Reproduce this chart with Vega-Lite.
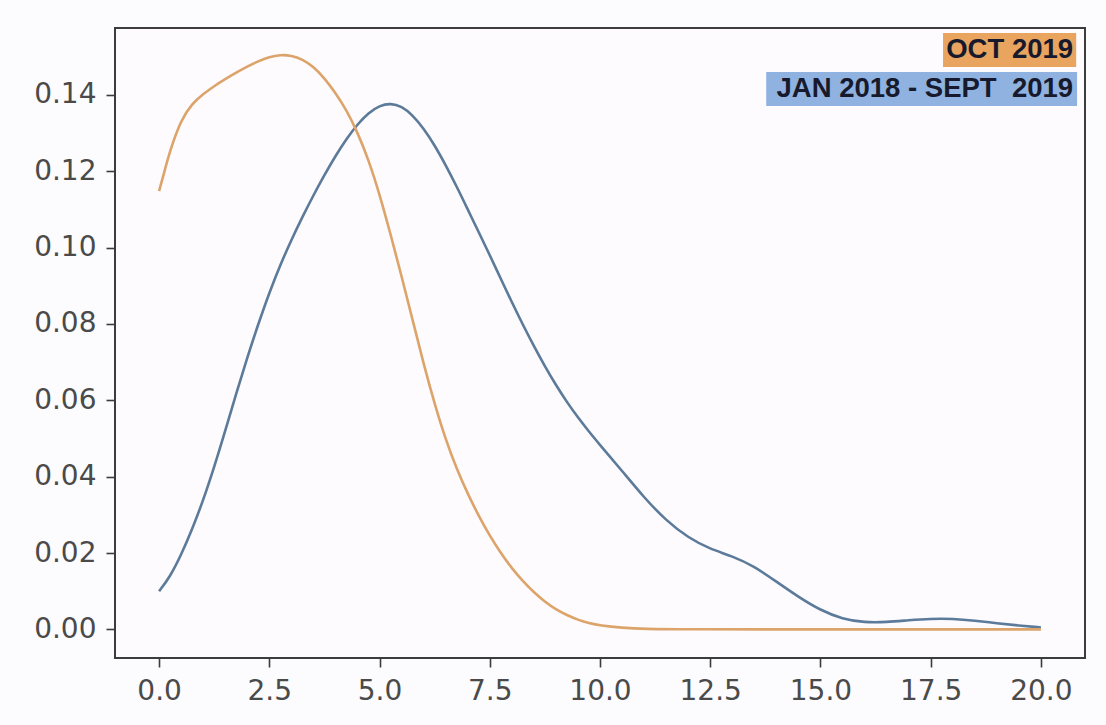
{
  "$schema": "https://vega.github.io/schema/vega-lite/v6.json",
  "width": 970,
  "height": 630,
  "autosize": {"type": "none"},
  "padding": {"left": 115, "top": 28, "right": 21, "bottom": 67},
  "background": "#fcfbfd",
  "config": {
    "view": {"stroke": "#3c3c3c", "strokeWidth": 2, "fill": "#fdfbfe"},
    "axis": {
      "grid": false,
      "domain": false,
      "labelFont": "DejaVu Sans",
      "labelFontSize": 28,
      "labelColor": "#4a4a4a",
      "tickColor": "#3c3c3c",
      "tickWidth": 1.6,
      "tickSize": 9,
      "title": null,
      "labelOverlap": false,
      "labelFlush": false
    }
  },
  "datasets": {
    "kde": [
      {"series": "JAN 2018 - SEPT  2019", "x": 0, "density": 0.0100},
      {"series": "JAN 2018 - SEPT  2019", "x": 0.25, "density": 0.0138},
      {"series": "JAN 2018 - SEPT  2019", "x": 0.5, "density": 0.0195},
      {"series": "JAN 2018 - SEPT  2019", "x": 0.75, "density": 0.0262},
      {"series": "JAN 2018 - SEPT  2019", "x": 1.0, "density": 0.0338},
      {"series": "JAN 2018 - SEPT  2019", "x": 1.25, "density": 0.0425},
      {"series": "JAN 2018 - SEPT  2019", "x": 1.5, "density": 0.0520},
      {"series": "JAN 2018 - SEPT  2019", "x": 1.75, "density": 0.0618},
      {"series": "JAN 2018 - SEPT  2019", "x": 2.0, "density": 0.0712},
      {"series": "JAN 2018 - SEPT  2019", "x": 2.25, "density": 0.0800},
      {"series": "JAN 2018 - SEPT  2019", "x": 2.5, "density": 0.0882},
      {"series": "JAN 2018 - SEPT  2019", "x": 2.75, "density": 0.0955},
      {"series": "JAN 2018 - SEPT  2019", "x": 3.0, "density": 0.1020},
      {"series": "JAN 2018 - SEPT  2019", "x": 3.25, "density": 0.1080},
      {"series": "JAN 2018 - SEPT  2019", "x": 3.5, "density": 0.1137},
      {"series": "JAN 2018 - SEPT  2019", "x": 3.75, "density": 0.1190},
      {"series": "JAN 2018 - SEPT  2019", "x": 4.0, "density": 0.1240},
      {"series": "JAN 2018 - SEPT  2019", "x": 4.25, "density": 0.1285},
      {"series": "JAN 2018 - SEPT  2019", "x": 4.5, "density": 0.1323},
      {"series": "JAN 2018 - SEPT  2019", "x": 4.75, "density": 0.1353},
      {"series": "JAN 2018 - SEPT  2019", "x": 5.0, "density": 0.1372},
      {"series": "JAN 2018 - SEPT  2019", "x": 5.25, "density": 0.1378},
      {"series": "JAN 2018 - SEPT  2019", "x": 5.5, "density": 0.1370},
      {"series": "JAN 2018 - SEPT  2019", "x": 5.75, "density": 0.1347},
      {"series": "JAN 2018 - SEPT  2019", "x": 6.0, "density": 0.1312},
      {"series": "JAN 2018 - SEPT  2019", "x": 6.25, "density": 0.1268},
      {"series": "JAN 2018 - SEPT  2019", "x": 6.5, "density": 0.1216},
      {"series": "JAN 2018 - SEPT  2019", "x": 6.75, "density": 0.1160},
      {"series": "JAN 2018 - SEPT  2019", "x": 7.0, "density": 0.1100},
      {"series": "JAN 2018 - SEPT  2019", "x": 7.25, "density": 0.1040},
      {"series": "JAN 2018 - SEPT  2019", "x": 7.5, "density": 0.0980},
      {"series": "JAN 2018 - SEPT  2019", "x": 7.75, "density": 0.0918},
      {"series": "JAN 2018 - SEPT  2019", "x": 8.0, "density": 0.0857},
      {"series": "JAN 2018 - SEPT  2019", "x": 8.25, "density": 0.0798},
      {"series": "JAN 2018 - SEPT  2019", "x": 8.5, "density": 0.0742},
      {"series": "JAN 2018 - SEPT  2019", "x": 8.75, "density": 0.0689},
      {"series": "JAN 2018 - SEPT  2019", "x": 9.0, "density": 0.0640},
      {"series": "JAN 2018 - SEPT  2019", "x": 9.25, "density": 0.0595},
      {"series": "JAN 2018 - SEPT  2019", "x": 9.5, "density": 0.0555},
      {"series": "JAN 2018 - SEPT  2019", "x": 9.75, "density": 0.0518},
      {"series": "JAN 2018 - SEPT  2019", "x": 10.0, "density": 0.0483},
      {"series": "JAN 2018 - SEPT  2019", "x": 10.5, "density": 0.0415},
      {"series": "JAN 2018 - SEPT  2019", "x": 11.0, "density": 0.0345},
      {"series": "JAN 2018 - SEPT  2019", "x": 11.5, "density": 0.0285},
      {"series": "JAN 2018 - SEPT  2019", "x": 12.0, "density": 0.0240},
      {"series": "JAN 2018 - SEPT  2019", "x": 12.5, "density": 0.0210},
      {"series": "JAN 2018 - SEPT  2019", "x": 13.0, "density": 0.0192},
      {"series": "JAN 2018 - SEPT  2019", "x": 13.5, "density": 0.0165},
      {"series": "JAN 2018 - SEPT  2019", "x": 14.0, "density": 0.0125},
      {"series": "JAN 2018 - SEPT  2019", "x": 14.5, "density": 0.0085},
      {"series": "JAN 2018 - SEPT  2019", "x": 15.0, "density": 0.0050},
      {"series": "JAN 2018 - SEPT  2019", "x": 15.5, "density": 0.0027},
      {"series": "JAN 2018 - SEPT  2019", "x": 16.0, "density": 0.0018},
      {"series": "JAN 2018 - SEPT  2019", "x": 16.5, "density": 0.0019},
      {"series": "JAN 2018 - SEPT  2019", "x": 17.0, "density": 0.0024},
      {"series": "JAN 2018 - SEPT  2019", "x": 17.5, "density": 0.0028},
      {"series": "JAN 2018 - SEPT  2019", "x": 18.0, "density": 0.0028},
      {"series": "JAN 2018 - SEPT  2019", "x": 18.5, "density": 0.0023},
      {"series": "JAN 2018 - SEPT  2019", "x": 19.0, "density": 0.0016},
      {"series": "JAN 2018 - SEPT  2019", "x": 19.5, "density": 0.0010},
      {"series": "JAN 2018 - SEPT  2019", "x": 20.0, "density": 0.0005},
      {"series": "OCT 2019", "x": 0, "density": 0.1148},
      {"series": "OCT 2019", "x": 0.1, "density": 0.1190},
      {"series": "OCT 2019", "x": 0.25, "density": 0.1255},
      {"series": "OCT 2019", "x": 0.5, "density": 0.1335},
      {"series": "OCT 2019", "x": 0.75, "density": 0.1377},
      {"series": "OCT 2019", "x": 1.0, "density": 0.1402},
      {"series": "OCT 2019", "x": 1.25, "density": 0.1423},
      {"series": "OCT 2019", "x": 1.5, "density": 0.1441},
      {"series": "OCT 2019", "x": 1.75, "density": 0.1458},
      {"series": "OCT 2019", "x": 2.0, "density": 0.1474},
      {"series": "OCT 2019", "x": 2.25, "density": 0.1488},
      {"series": "OCT 2019", "x": 2.5, "density": 0.1499},
      {"series": "OCT 2019", "x": 2.75, "density": 0.1505},
      {"series": "OCT 2019", "x": 3.0, "density": 0.1503},
      {"series": "OCT 2019", "x": 3.25, "density": 0.1493},
      {"series": "OCT 2019", "x": 3.5, "density": 0.1474},
      {"series": "OCT 2019", "x": 3.75, "density": 0.1444},
      {"series": "OCT 2019", "x": 4.0, "density": 0.1405},
      {"series": "OCT 2019", "x": 4.25, "density": 0.1360},
      {"series": "OCT 2019", "x": 4.5, "density": 0.1302},
      {"series": "OCT 2019", "x": 4.75, "density": 0.1230},
      {"series": "OCT 2019", "x": 5.0, "density": 0.1140},
      {"series": "OCT 2019", "x": 5.25, "density": 0.1035},
      {"series": "OCT 2019", "x": 5.5, "density": 0.0925},
      {"series": "OCT 2019", "x": 5.75, "density": 0.0810},
      {"series": "OCT 2019", "x": 6.0, "density": 0.0695},
      {"series": "OCT 2019", "x": 6.25, "density": 0.0590},
      {"series": "OCT 2019", "x": 6.5, "density": 0.0497},
      {"series": "OCT 2019", "x": 6.75, "density": 0.0420},
      {"series": "OCT 2019", "x": 7.0, "density": 0.0355},
      {"series": "OCT 2019", "x": 7.25, "density": 0.0297},
      {"series": "OCT 2019", "x": 7.5, "density": 0.0245},
      {"series": "OCT 2019", "x": 7.75, "density": 0.0200},
      {"series": "OCT 2019", "x": 8.0, "density": 0.0160},
      {"series": "OCT 2019", "x": 8.25, "density": 0.0126},
      {"series": "OCT 2019", "x": 8.5, "density": 0.0097},
      {"series": "OCT 2019", "x": 8.75, "density": 0.0072},
      {"series": "OCT 2019", "x": 9.0, "density": 0.0052},
      {"series": "OCT 2019", "x": 9.25, "density": 0.0037},
      {"series": "OCT 2019", "x": 9.5, "density": 0.0025},
      {"series": "OCT 2019", "x": 9.75, "density": 0.0016},
      {"series": "OCT 2019", "x": 10.0, "density": 0.0010},
      {"series": "OCT 2019", "x": 10.5, "density": 0.0004},
      {"series": "OCT 2019", "x": 11.0, "density": 0.0001},
      {"series": "OCT 2019", "x": 12.0, "density": 0.0},
      {"series": "OCT 2019", "x": 14.0, "density": 0.0},
      {"series": "OCT 2019", "x": 16.0, "density": 0.0},
      {"series": "OCT 2019", "x": 18.0, "density": 0.0},
      {"series": "OCT 2019", "x": 20.0, "density": 0.0}
    ]
  },
  "layer": [
    {
      "data": {"name": "kde"},
      "transform": [{"filter": "datum.series === 'JAN 2018 - SEPT  2019'"}],
      "mark": {"type": "line", "color": "#5c7a99", "strokeWidth": 2.6, "interpolate": "basis"},
      "encoding": {
        "x": {"field": "x", "type": "quantitative",
              "scale": {"domain": [-1, 21], "nice": false, "zero": false},
              "axis": {"values": [0, 2.5, 5, 7.5, 10, 12.5, 15, 17.5, 20], "format": ".1f", "labelPadding": 10}},
        "y": {"field": "density", "type": "quantitative",
              "scale": {"domain": [-0.0075, 0.1575], "nice": false, "zero": false},
              "axis": {"values": [0, 0.02, 0.04, 0.06, 0.08, 0.1, 0.12, 0.14], "format": ".2f", "labelPadding": 10}}
      }
    },
    {
      "data": {"name": "kde"},
      "transform": [{"filter": "datum.series === 'OCT 2019'"}],
      "mark": {"type": "line", "color": "#dca46a", "strokeWidth": 2.6, "interpolate": "basis"},
      "encoding": {
        "x": {"field": "x", "type": "quantitative"},
        "y": {"field": "density", "type": "quantitative"}
      }
    },
    {
      "data": {"values": [{"label": "OCT 2019"}]},
      "mark": {"type": "rect", "color": "#e9a460", "opacity": 1},
      "encoding": {
        "x": {"datum": 17.78, "type": "quantitative"},
        "x2": {"datum": 20.8},
        "y": {"datum": 0.1562, "type": "quantitative"},
        "y2": {"datum": 0.1473}
      }
    },
    {
      "data": {"values": [{"label": "JAN 2018 - SEPT\u00a0 2019"}]},
      "mark": {"type": "rect", "color": "#8fb2e0", "opacity": 1},
      "encoding": {
        "x": {"datum": 13.77, "type": "quantitative"},
        "x2": {"datum": 20.82},
        "y": {"datum": 0.1460, "type": "quantitative"},
        "y2": {"datum": 0.1371}
      }
    },
    {
      "data": {"values": [{"label": "OCT 2019"}]},
      "mark": {"type": "text", "align": "right", "baseline": "middle", "font": "Liberation Sans", "fontWeight": "bold", "fontSize": 27.5, "color": "#171a2c"},
      "encoding": {
        "x": {"datum": 20.73, "type": "quantitative"},
        "y": {"datum": 0.1517, "type": "quantitative"},
        "text": {"field": "label"}
      }
    },
    {
      "data": {"values": [{"label": "JAN 2018 - SEPT\u00a0 2019"}]},
      "mark": {"type": "text", "align": "right", "baseline": "middle", "font": "Liberation Sans", "fontWeight": "bold", "fontSize": 27.5, "color": "#171a2c"},
      "encoding": {
        "x": {"datum": 20.73, "type": "quantitative"},
        "y": {"datum": 0.1415, "type": "quantitative"},
        "text": {"field": "label"}
      }
    }
  ]
}
